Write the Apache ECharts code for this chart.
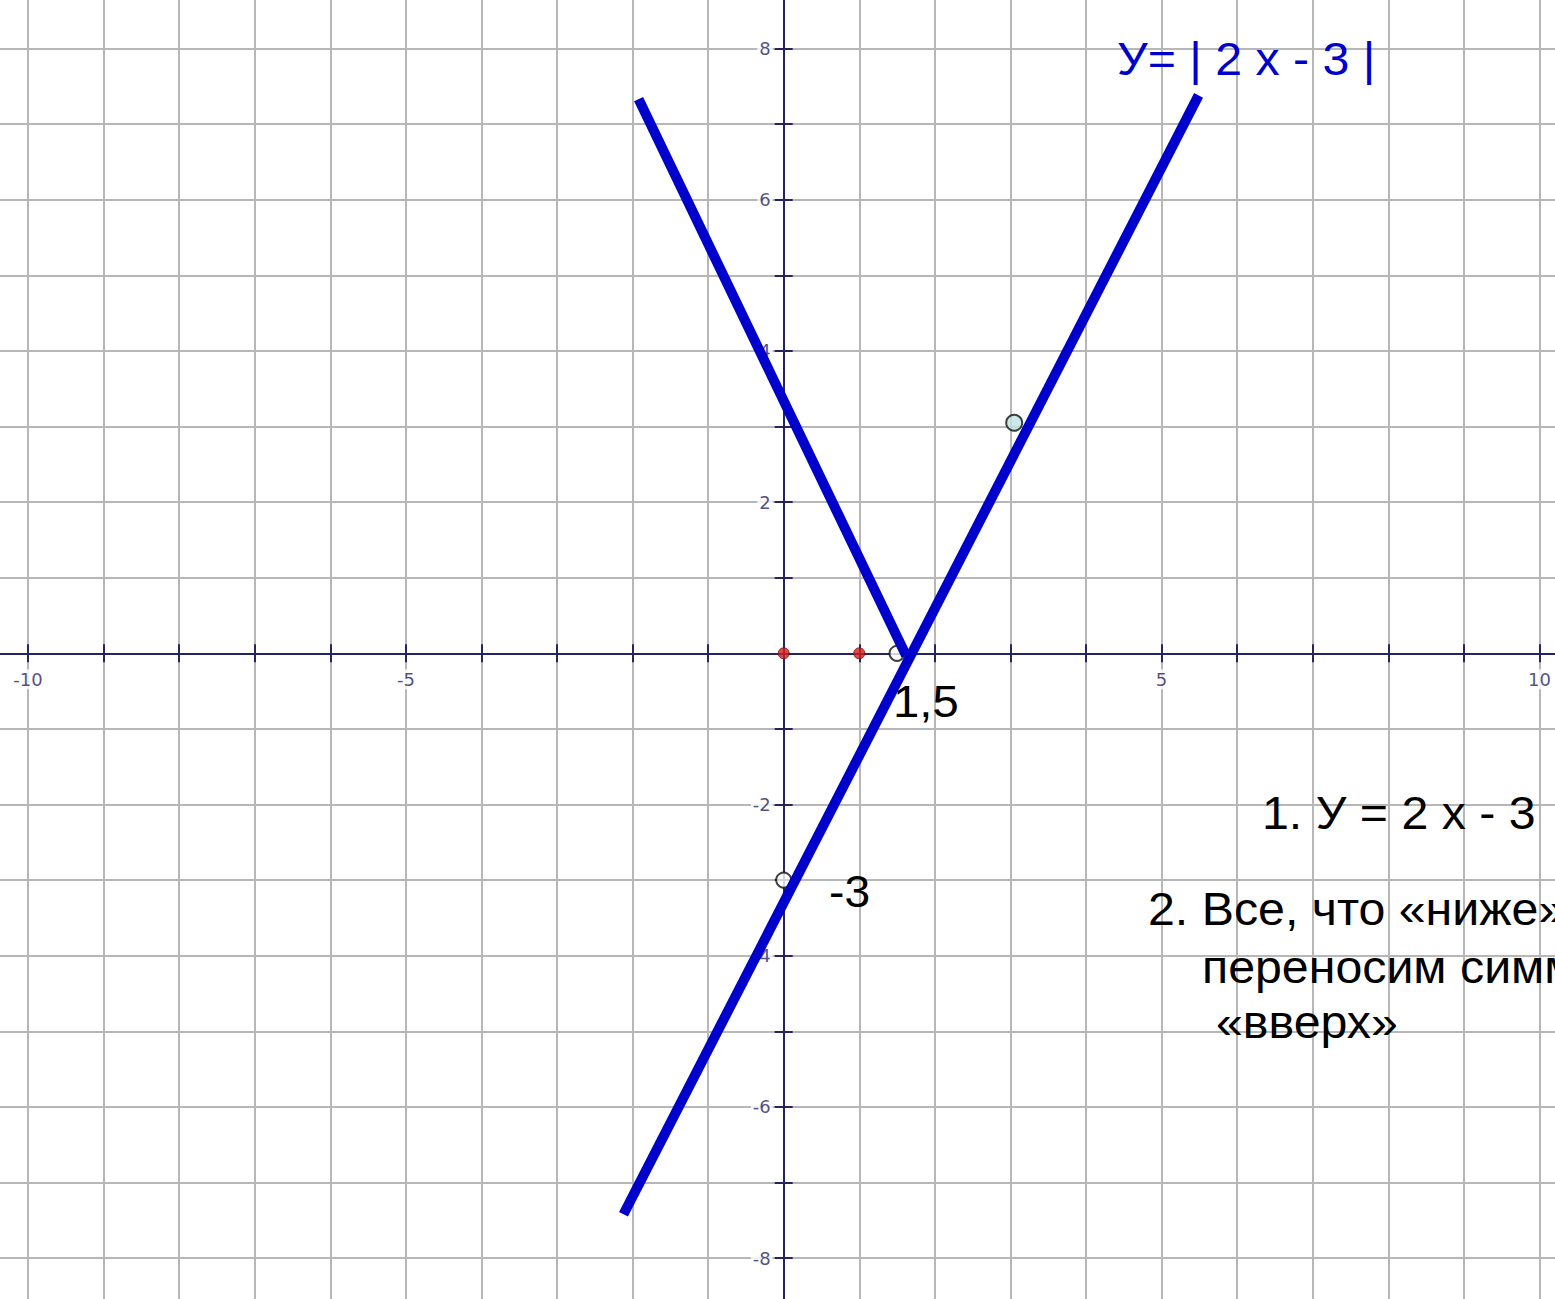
<!DOCTYPE html>
<html>
<head>
<meta charset="utf-8">
<title>y = |2x - 3|</title>
<script src="https://cdn.jsdelivr.net/npm/echarts@6/dist/echarts.min.js"></script>
<style>
  html, body { margin: 0; padding: 0; background: #ffffff; overflow: hidden; }
  #chart { width: 1555px; height: 1299px; }
</style>
</head>
<body>
<div id="chart"></div>
<script>
// Coordinate plane extents (units) and labelled tick values
const xRange = [-11, 11];
const yRange = [-9, 9];
const xTickLabels = [-10, -5, 5, 10];
const yTickLabels = [-8, -6, -4, -2, 2, 4, 6, 8];

// y = 2x - 3 (full stroke) and the reflected part of y = |2x - 3|
const lineRising = [[-2.12, -7.42], [5.49, 7.38]];
const lineFalling = [[-1.92, 7.33], [1.62, -0.03]];

// Marked points
const hollowPoints = [[1.5, 0], [0, -3]];
const filledPoints = [[3.05, 3.05]];
const redPoints = [[0, 0], [1, 0]];

// Annotation texts
const titleText = 'У= | 2 x - 3 |';
const rootText = '1,5';
const interceptText = '-3';
const stepLines = [
  '1. У = 2 x - 3',
  '2. Все, что «ниже»',
  'переносим симметрично',
  '«вверх»'
];

// ---- layout (pixels) ----
const unitX = 75.57, unitY = 75.6;
const originX = 783.7, originY = 653.3;
const navy = '#24245f';
const gridGray = '#b7b7b7';
const blue = '#0000cc';
const textFont = 'Liberation Sans, Arial, sans-serif';

const chart = echarts.init(document.getElementById('chart'), null, { renderer: 'svg' });

function axisBase(range, extra) {
  return Object.assign({
    type: 'value', min: range[0], max: range[1], interval: 1,
    axisLine: { show: false, onZero: true, onZeroAxisIndex: 0 },
    axisTick: { show: false },
    axisLabel: { show: false },
    splitLine: { show: false }
  }, extra);
}

const tickStyle = { color: navy, width: 2 };

// grid lines (z 0), axis line with outer ticks (z 1), inner ticks (z 1)
const xAxes = [
  axisBase(xRange, { position: 'bottom', z: 0,
    splitLine: { show: true, lineStyle: { color: gridGray, width: 2 } } }),
  axisBase(xRange, { position: 'bottom', z: 1,
    axisLine: { show: true, onZero: true, onZeroAxisIndex: 0, lineStyle: { color: navy, width: 2 } },
    axisTick: { show: true, inside: false, length: 9, lineStyle: tickStyle } }),
  axisBase(xRange, { position: 'bottom', z: 1,
    axisTick: { show: true, inside: true, length: 9, lineStyle: tickStyle } })
];

const yAxes = [
  axisBase(yRange, { position: 'left', z: 0,
    splitLine: { show: true, lineStyle: { color: gridGray, width: 2 } } }),
  axisBase(yRange, { position: 'left', z: 1,
    axisLine: { show: true, onZero: true, onZeroAxisIndex: 0, lineStyle: { color: navy, width: 2 } },
    axisTick: { show: true, inside: false, length: 9, lineStyle: tickStyle } }),
  axisBase(yRange, { position: 'left', z: 1,
    axisTick: { show: true, inside: true, length: 9, lineStyle: tickStyle } })
];

// tick numbers placed next to the axes through the chart's own scales
function tickLabelSeries(points, position, distance, pick) {
  return {
    type: 'scatter', data: points, symbolSize: 0, z: 1, silent: true,
    itemStyle: { color: 'rgba(0,0,0,0)' },
    label: {
      show: true, position: position, distance: distance,
      formatter: p => String(p.value[pick]),
      fontSize: 18, fontFamily: 'DejaVu Sans, sans-serif', color: navy,
      backgroundColor: '#ffffff', padding: [1, 2]
    }
  };
}

function strokeSeries(data) {
  return {
    type: 'line', data: data, showSymbol: false, symbol: 'none', z: 2, silent: true,
    lineStyle: { color: blue, width: 10, cap: 'butt' }
  };
}

function textEl(text, x, y, size, color) {
  return {
    type: 'text', x: x, y: y, scaleX: 1.05, z: 10, silent: true,
    style: { text: text, fontSize: size, fontFamily: textFont, fill: color,
             align: 'left', verticalAlign: 'middle' }
  };
}

const option = {
  animation: false,
  backgroundColor: '#ffffff',
  grid: {
    left: originX + xRange[0] * unitX,
    top: originY - yRange[1] * unitY,
    width: (xRange[1] - xRange[0]) * unitX,
    height: (yRange[1] - yRange[0]) * unitY,
    containLabel: false,
    outerBoundsMode: 'none'
  },
  xAxis: xAxes,
  yAxis: yAxes,
  series: [
    tickLabelSeries(xTickLabels.map(v => [v, 0]), 'bottom', 16, 0),
    tickLabelSeries(yTickLabels.map(v => [0, v]), 'left', 11, 1),
    {
      type: 'scatter', data: hollowPoints, symbol: 'circle', symbolSize: 15, z: 1, silent: true,
      itemStyle: { color: '#ffffff', borderColor: '#111111', borderWidth: 2 }
    },
    strokeSeries(lineRising),
    strokeSeries(lineFalling),
    {
      type: 'scatter', data: filledPoints, symbol: 'circle', symbolSize: 16, z: 3, silent: true,
      itemStyle: { color: '#bfe2e2', borderColor: '#111111', borderWidth: 2 }
    },
    {
      type: 'scatter', data: redPoints, symbol: 'circle', symbolSize: 11, z: 3, silent: true,
      itemStyle: { color: '#d41e1e', borderColor: '#7a0c0c', borderWidth: 1 }
    }
  ],
  graphic: [
    textEl(titleText, 1117, 59, 46, blue),
    textEl(rootText, 893, 701, 45, '#000000'),
    textEl(interceptText, 829, 892, 44, '#000000'),
    textEl(stepLines[0], 1262, 813, 46, '#000000'),
    textEl(stepLines[1], 1148, 909, 46, '#000000'),
    textEl(stepLines[2], 1202, 967, 46, '#000000'),
    textEl(stepLines[3], 1216, 1022, 46, '#000000')
  ]
};

chart.setOption(option);
</script>
</body>
</html>
